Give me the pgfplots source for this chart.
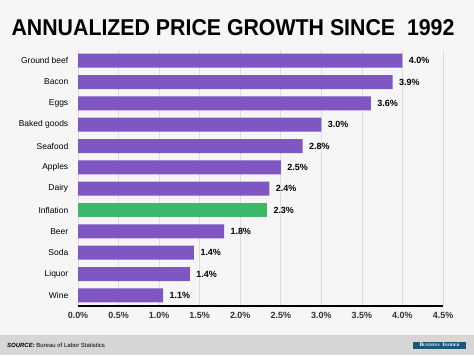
\documentclass[border=0pt]{standalone}
\usepackage{pgfplots}
\pgfplotsset{compat=1.18}
\usepackage{fontspec}
\setmainfont{Liberation Sans}
\newfontfamily\biserif{Liberation Serif}
\definecolor{bg}{HTML}{F6F6F6}
\definecolor{foot}{HTML}{D6D6D6}
\definecolor{purp}{HTML}{7E57C2}
\definecolor{grn}{HTML}{3DB86A}
\definecolor{gridc}{HTML}{DCDCDC}
\definecolor{tickc}{HTML}{333333}
\definecolor{bi}{HTML}{1F5673}
\begin{document}
\begin{tikzpicture}[x=1bp,y=1bp]
\fill[bg] (0,0) rectangle (474,355);
\fill[foot] (0,0) rectangle (474,20);
\node[anchor=center,font=\fontsize{23}{23}\selectfont\bfseries,inner sep=0] at (233,327) {\scalebox{0.93}[1]{ANNUALIZED PRICE GROWTH SINCE\ \ 1992}};
\node[anchor=west,font=\fontsize{6}{6}\selectfont,inner sep=0] at (7,9.5) {\textbf{\textit{SOURCE:}} Bureau of Labor Statistics};
\fill[bi] (413,6.5) rectangle (466,13.5);
\node[font=\biserif\bfseries,text=white,inner sep=0] at (439.5,10) {{\fontsize{5.5}{5.5}\selectfont B}{\fontsize{4}{4}\selectfont USINESS} {\fontsize{5.5}{5.5}\selectfont I}{\fontsize{4}{4}\selectfont NSIDER}};
\begin{axis}[
  at={(78bp,49bp)}, anchor=south west,
  scale only axis, width=365bp, height=256bp,
  xbar, bar shift=0pt, bar width=14bp,
  xmin=0, xmax=4.5, ymin=-0.5, ymax=11.5,
  y dir=reverse,
  xtick={0,0.5,...,4.5},
  xticklabels={0.0\%,0.5\%,1.0\%,1.5\%,2.0\%,2.5\%,3.0\%,3.5\%,4.0\%,4.5\%},
  ytick={0,...,11},
  yticklabels={Ground beef,Bacon,Eggs,Baked goods,Seafood,Apples,Dairy,Inflation,Beer,Soda,Liquor,Wine},
  xmajorgrids, major grid style={gridc, line width=0.8pt},
  axis line style={draw=none},
  tick style={draw=none},
  xticklabel style={font=\fontsize{9}{9}\selectfont\bfseries, text=tickc, yshift=-3bp},
  yticklabel style={font=\fontsize{8.5}{8.5}\selectfont, text=black, xshift=-2bp},
  nodes near coords,
  point meta=explicit symbolic,
  every node near coord/.append style={font=\fontsize{9}{9}\selectfont\bfseries, text=black, anchor=west, xshift=3bp},
  clip=false,
]
\addplot[fill=purp, draw=none] coordinates {
 (4.00,0) [4.0\%]
 (3.88,1) [3.9\%]
 (3.61,2) [3.6\%]
 (3.00,3) [3.0\%]
 (2.77,4) [2.8\%]
 (2.50,5) [2.5\%]
 (2.36,6) [2.4\%]
 (1.80,8) [1.8\%]
 (1.43,9) [1.4\%]
 (1.38,10) [1.4\%]
 (1.05,11) [1.1\%]
};
\addplot[fill=grn, draw=none] coordinates {
 (2.33,7) [2.3\%]
};
\draw[black, line width=1.2pt] (axis cs:0,11.5) -- (axis cs:4.5,11.5);
\end{axis}
\end{tikzpicture}
\end{document}
